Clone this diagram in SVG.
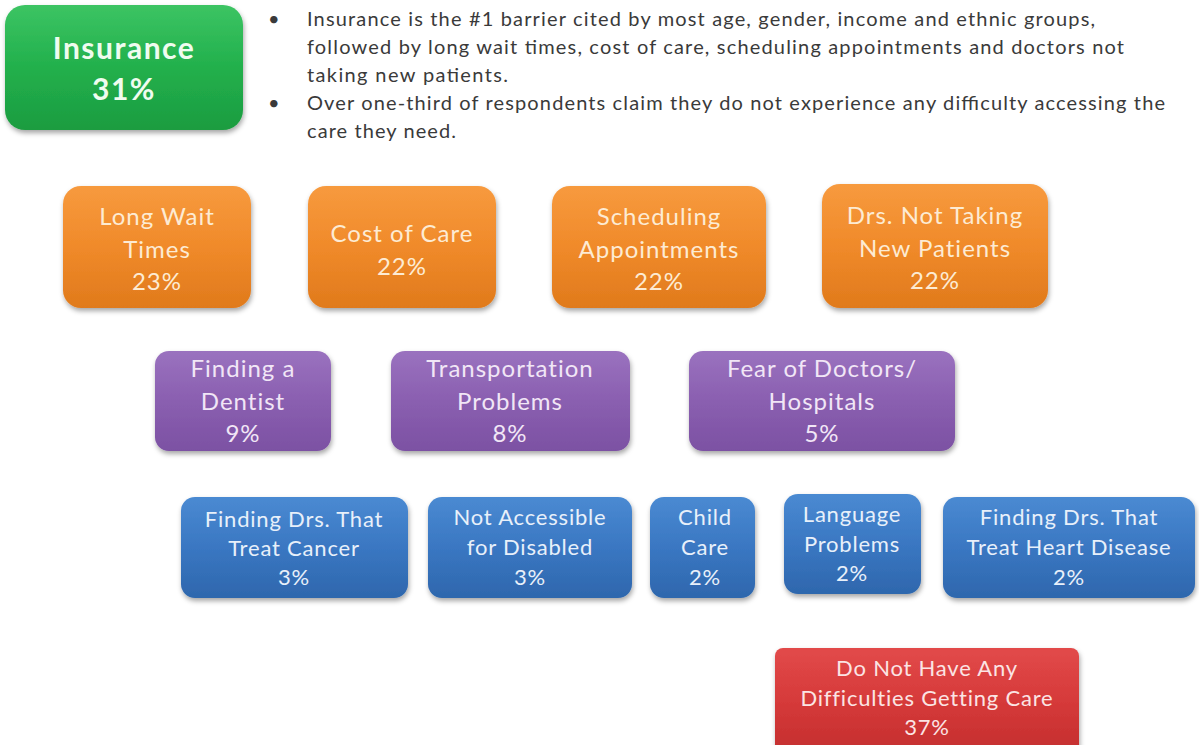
<svg xmlns="http://www.w3.org/2000/svg" width="1199" height="745" viewBox="0 0 1199 745">
<style>
  .bt { font-family: Lato, "Noto Sans", sans-serif; font-size: 20px; fill: #3a3a3a; }
  .lbl { font-family: Lato, "Noto Sans", sans-serif; text-anchor: middle; }
  .o { font-size: 24px; fill: #fdebd3; letter-spacing: 1px; }
  .p { font-size: 24px; fill: #f1e6f6; letter-spacing: 1px; }
  .b { font-size: 22px; fill: #e8f0fa; letter-spacing: 0.8px; }
  .r { font-size: 22px; fill: #fbe4e4; letter-spacing: 0.8px; }
  .g { font-size: 30px; font-weight: bold; fill: #effcef; letter-spacing: 1.5px; }
</style>
<defs>
  <linearGradient id="gG" x1="0" y1="0" x2="0" y2="1">
    <stop offset="0" stop-color="#3cc463"/><stop offset="0.5" stop-color="#22b04c"/><stop offset="1" stop-color="#1c9c40"/>
  </linearGradient>
  <linearGradient id="gO" x1="0" y1="0" x2="0" y2="1">
    <stop offset="0" stop-color="#f79a3e"/><stop offset="0.5" stop-color="#f08a2a"/><stop offset="1" stop-color="#e07a1c"/>
  </linearGradient>
  <linearGradient id="gP" x1="0" y1="0" x2="0" y2="1">
    <stop offset="0" stop-color="#9a72bf"/><stop offset="0.5" stop-color="#8a5fb0"/><stop offset="1" stop-color="#7c51a3"/>
  </linearGradient>
  <linearGradient id="gB" x1="0" y1="0" x2="0" y2="1">
    <stop offset="0" stop-color="#4a8ad2"/><stop offset="0.5" stop-color="#3a77c2"/><stop offset="1" stop-color="#2e67ad"/>
  </linearGradient>
  <linearGradient id="gR" x1="0" y1="0" x2="0" y2="1">
    <stop offset="0" stop-color="#e24a4a"/><stop offset="0.5" stop-color="#d63a3a"/><stop offset="1" stop-color="#c42e2e"/>
  </linearGradient>
  <filter id="sh" x="-10%" y="-10%" width="125%" height="130%">
    <feDropShadow dx="1" dy="3" stdDeviation="2.5" flood-color="#000" flood-opacity="0.35"/>
  </filter>
</defs>

<g id="bullets">
  <text class="bt" x="268" y="26">•</text>
  <text class="bt" x="307" y="26" textLength="788" lengthAdjust="spacing">Insurance is the #1 barrier cited by most age, gender, income and ethnic groups,</text>
  <text class="bt" x="307" y="54" textLength="817" lengthAdjust="spacing">followed by long wait times, cost of care, scheduling appointments and doctors not</text>
  <text class="bt" x="307" y="82" textLength="201" lengthAdjust="spacing">taking new patients.</text>
  <text class="bt" x="268" y="110">•</text>
  <text class="bt" x="307" y="110" textLength="858" lengthAdjust="spacing">Over one-third of respondents claim they do not experience any difficulty accessing the</text>
  <text class="bt" x="307" y="138" textLength="149" lengthAdjust="spacing">care they need.</text>
</g>

<g id="insurance">
  <rect x="5" y="5" width="238" height="125" rx="20" fill="url(#gG)" filter="url(#sh)"/>
  <text class="lbl g" x="124" y="59">Insurance</text>
  <text class="lbl g" x="124" y="100">31%</text>
</g>

<g id="long-wait">
  <rect x="63" y="186" width="188" height="122" rx="18" fill="url(#gO)" filter="url(#sh)"/>
  <text class="lbl o" x="157" y="225">Long Wait</text>
  <text class="lbl o" x="157" y="258">Times</text>
  <text class="lbl o" x="157" y="290">23%</text>
</g>
<g id="cost-of-care">
  <rect x="308" y="186" width="188" height="122" rx="18" fill="url(#gO)" filter="url(#sh)"/>
  <text class="lbl o" x="402" y="242">Cost of Care</text>
  <text class="lbl o" x="402" y="275">22%</text>
</g>
<g id="scheduling">
  <rect x="552" y="186" width="214" height="122" rx="18" fill="url(#gO)" filter="url(#sh)"/>
  <text class="lbl o" x="659" y="225">Scheduling</text>
  <text class="lbl o" x="659" y="258">Appointments</text>
  <text class="lbl o" x="659" y="290">22%</text>
</g>
<g id="drs-not-taking">
  <rect x="822" y="184" width="226" height="124" rx="18" fill="url(#gO)" filter="url(#sh)"/>
  <text class="lbl o" x="935" y="224">Drs. Not Taking</text>
  <text class="lbl o" x="935" y="257">New Patients</text>
  <text class="lbl o" x="935" y="289">22%</text>
</g>

<g id="dentist">
  <rect x="155" y="351" width="176" height="100" rx="14" fill="url(#gP)" filter="url(#sh)"/>
  <text class="lbl p" x="243" y="377">Finding a</text>
  <text class="lbl p" x="243" y="410">Dentist</text>
  <text class="lbl p" x="243" y="442">9%</text>
</g>
<g id="transportation">
  <rect x="391" y="351" width="239" height="100" rx="14" fill="url(#gP)" filter="url(#sh)"/>
  <text class="lbl p" x="510" y="377">Transportation</text>
  <text class="lbl p" x="510" y="410">Problems</text>
  <text class="lbl p" x="510" y="442">8%</text>
</g>
<g id="fear">
  <rect x="689" y="351" width="266" height="100" rx="14" fill="url(#gP)" filter="url(#sh)"/>
  <text class="lbl p" x="822" y="377">Fear of Doctors/</text>
  <text class="lbl p" x="822" y="410">Hospitals</text>
  <text class="lbl p" x="822" y="442">5%</text>
</g>

<g id="cancer">
  <rect x="181" y="497" width="227" height="101" rx="14" fill="url(#gB)" filter="url(#sh)"/>
  <text class="lbl b" x="294" y="527">Finding Drs. That</text>
  <text class="lbl b" x="294" y="556">Treat Cancer</text>
  <text class="lbl b" x="294" y="585">3%</text>
</g>
<g id="disabled">
  <rect x="428" y="497" width="204" height="101" rx="14" fill="url(#gB)" filter="url(#sh)"/>
  <text class="lbl b" x="530" y="525">Not Accessible</text>
  <text class="lbl b" x="530" y="555">for Disabled</text>
  <text class="lbl b" x="530" y="585">3%</text>
</g>
<g id="child-care">
  <rect x="650" y="497" width="105" height="101" rx="14" fill="url(#gB)" filter="url(#sh)"/>
  <text class="lbl b" x="705" y="525">Child</text>
  <text class="lbl b" x="705" y="555">Care</text>
  <text class="lbl b" x="705" y="585">2%</text>
</g>
<g id="language">
  <rect x="784" y="494" width="137" height="100" rx="14" fill="url(#gB)" filter="url(#sh)"/>
  <text class="lbl b" x="852" y="522">Language</text>
  <text class="lbl b" x="852" y="552">Problems</text>
  <text class="lbl b" x="852" y="581">2%</text>
</g>
<g id="heart">
  <rect x="943" y="497" width="252" height="101" rx="14" fill="url(#gB)" filter="url(#sh)"/>
  <text class="lbl b" x="1069" y="525">Finding Drs. That</text>
  <text class="lbl b" x="1069" y="555">Treat Heart Disease</text>
  <text class="lbl b" x="1069" y="585">2%</text>
</g>

<g id="no-difficulties">
  <rect x="775" y="648" width="304" height="105" rx="8" fill="url(#gR)" filter="url(#sh)"/>
  <text class="lbl r" x="927" y="676">Do Not Have Any</text>
  <text class="lbl r" x="927" y="706">Difficulties Getting Care</text>
  <text class="lbl r" x="927" y="735">37%</text>
</g>

<g id="connectors"></g>
</svg>
